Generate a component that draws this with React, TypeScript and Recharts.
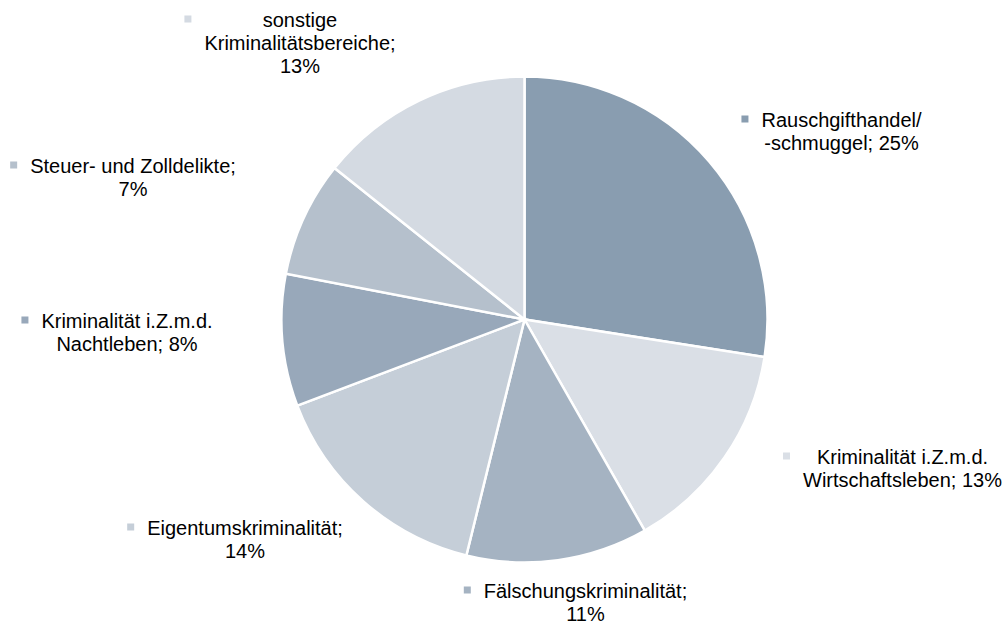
import React from "react";
import { PieChart, Pie, Cell } from "recharts";

const categories = [
  "Rauschgifthandel/\n-schmuggel",
  "Kriminalität i.Z.m.d.\nWirtschaftsleben",
  "Fälschungskriminalität",
  "Eigentumskriminalität",
  "Kriminalität i.Z.m.d.\nNachtleben",
  "Steuer- und Zolldelikte",
  "sonstige\nKriminalitätsbereiche",
];
const shares = [25, 13, 11, 14, 8, 7, 13];
const colors = ["#899DB0", "#DADFE6", "#A5B3C2", "#C5CED8", "#98A8BA", "#B5C0CC", "#D4DAE2"];

// label block centre (x) and first-line centre (y), relative to pie centre
const labelOffsets: [number, number][] = [
  [317, -199.5],
  [378, 137.5],
  [61, 271.5],
  [-279.5, 208.5],
  [-397.5, 1.5],
  [-391.5, -153.5],
  [-224.5, -299.5],
];
// how each label text is broken into lines
const labelLines: string[][] = [
  ["Rauschgifthandel/", "-schmuggel; 25%"],
  ["Kriminalität i.Z.m.d.", "Wirtschaftsleben; 13%"],
  ["Fälschungskriminalität;", "11%"],
  ["Eigentumskriminalität;", "14%"],
  ["Kriminalität i.Z.m.d.", "Nachtleben; 8%"],
  ["Steuer- und Zolldelikte;", "7%"],
  ["sonstige", "Kriminalitätsbereiche;", "13%"],
];

const data = categories.map((c, i) => ({ name: c, value: shares[i] }));

const FONT_SIZE = 20;
const FONT = `${FONT_SIZE}px "Liberation Sans", Arial, sans-serif`;
const LINE_H = 23;

let ctx: CanvasRenderingContext2D | null = null;
function measure(t: string): number {
  if (!ctx) {
    const c = document.createElement("canvas");
    ctx = c.getContext("2d");
  }
  if (!ctx) return t.length * FONT_SIZE * 0.5;
  ctx.font = FONT;
  return ctx.measureText(t).width;
}

const renderLabel = (props: any) => {
  const { cx, cy, index } = props;
  const [dx, dy] = labelOffsets[index];
  const x = cx + dx;
  const y = cy + dy;
  const lines = labelLines[index];
  const maxW = Math.max(...lines.map(measure));
  const sqX = x - maxW / 2 - 20;
  return (
    <g key={`lbl-${index}`}>
      <rect x={sqX} y={y - 4.5} width={7} height={7} fill={colors[index]} />
      <text
        x={x}
        y={y}
        textAnchor="middle"
        fill="#000"
        style={{ fontFamily: '"Liberation Sans", Arial, sans-serif', fontSize: FONT_SIZE }}
      >
        {lines.map((l, k) => (
          <tspan key={k} x={x} y={y + k * LINE_H} dominantBaseline="central">
            {l}
          </tspan>
        ))}
      </text>
    </g>
  );
};

export default function App() {
  return (
    <div style={{ position: "absolute", left: 0, top: 0, width: 1008, height: 626, background: "#fff" }}>
      <PieChart width={1008} height={626} margin={{ top: 0, right: 0, bottom: 0, left: 0 }}>
        <Pie
          data={data}
          dataKey="value"
          nameKey="name"
          cx={524.5}
          cy={319.5}
          outerRadius={243}
          startAngle={90}
          endAngle={-270}
          stroke="#fff"
          strokeWidth={2.5}
          label={renderLabel}
          labelLine={false}
          isAnimationActive={false}
        >
          {data.map((d, i) => (
            <Cell key={i} fill={colors[i]} />
          ))}
        </Pie>
      </PieChart>
    </div>
  );
}
